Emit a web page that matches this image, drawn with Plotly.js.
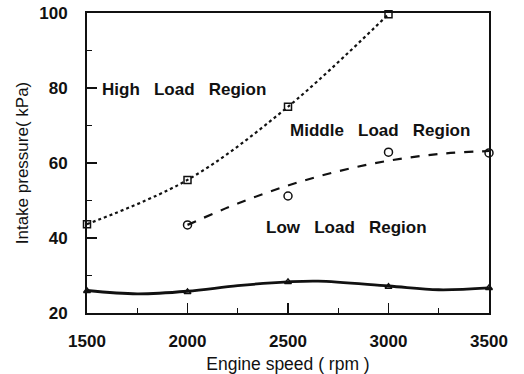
<!DOCTYPE html>
<html><head><meta charset="utf-8">
<script src="https://cdn.plot.ly/plotly-3.0.1.min.js"></script>
<style>html,body{margin:0;padding:0;background:#fff}#c{width:524px;height:374px}</style>
</head><body><div id="c"></div>
<script>
// Measured points
var speedHigh = [1500, 2000, 2500, 3000];
var pHigh = [43.7, 55.5, 75, 99.7];
var speedMid = [2000, 2500, 3000, 3500];
var pMid = [43.5, 51.2, 62.9, 62.7];
var speedLow = [1500, 2000, 2500, 3000, 3500];
var pLow = [25.9, 25.6, 28.3, 27.0, 26.7];
// Fitted curves
var curveMidX = [2000, 2250, 2500, 2750, 3000, 3250, 3500];
var curveMidY = [43.5, 49.2, 54.0, 57.8, 60.6, 62.4, 63.2];
var curveLowX = [1500, 1750, 2000, 2250, 2500, 2650, 3000, 3250, 3500];
var curveLowY = [26.0, 25.1, 25.8, 27.3, 28.3, 28.5, 27.2, 26.2, 26.7];
var labels = ["High   Load   Region", "Middle   Load   Region", "Low   Load   Region"];
var labelX = [1565, 2500, 2383];
var labelY = [79.5, 68.8, 42.7];

var K = '#111';
var traces = [
  {x: speedHigh, y: pHigh, mode: 'lines', line: {shape: 'spline', dash: 'dot', width: 2.2, color: K}, cliponaxis: false},
  {x: speedHigh, y: pHigh, mode: 'markers', marker: {symbol: 'square-open', size: 7, color: K, line: {width: 1.5}}, cliponaxis: false},
  {x: curveMidX, y: curveMidY, mode: 'lines', line: {shape: 'spline', dash: 'dash', width: 2.2, color: K}, cliponaxis: false},
  {x: speedMid, y: pMid, mode: 'markers', marker: {symbol: 'circle-open', size: 8, color: K, line: {width: 1.5}}, cliponaxis: false},
  {x: curveLowX, y: curveLowY, mode: 'lines', line: {shape: 'spline', width: 2.8, color: K}, cliponaxis: false},
  {x: speedLow, y: pLow, mode: 'markers', marker: {symbol: 'triangle-up-open', size: 6, color: K, line: {width: 1.5}}, cliponaxis: false}
];
var ann = labels.map(function(t, i){
  return {x: labelX[i], y: labelY[i], text: t, showarrow: false, xanchor: 'left', yanchor: 'middle',
    font: {family: 'Liberation Sans, Arial', size: 17, color: K, weight: 'bold'}};
});
var layout = {
  width: 524, height: 374,
  margin: {l: 87, r: 35, t: 13, b: 61},
  paper_bgcolor: '#fff', plot_bgcolor: '#fff',
  showlegend: false,
  font: {family: 'Liberation Sans, Arial', color: K},
  xaxis: {range: [1500, 3500], tickvals: [1500, 2000, 2500, 3000, 3500], ticks: 'inside', ticklen: 10, tickwidth: 1.2, tickcolor: K,
    minor: {dtick: 250, ticks: 'inside', ticklen: 5, tickcolor: K}, dtick: 500, tick0: 1500,
    showline: true, linecolor: K, linewidth: 2, mirror: true, showgrid: false, zeroline: false,
    tickfont: {size: 17, weight: 'bold', color: K}, ticklabelstandoff: 12,
    title: {text: 'Engine speed ( rpm )', font: {size: 17.5, color: K}, standoff: 8}},
  yaxis: {range: [20, 100], dtick: 20, tick0: 20, ticks: 'inside', ticklen: 10, tickwidth: 1.5, tickcolor: K,
    minor: {dtick: 10, ticks: 'inside', ticklen: 5, tickcolor: K},
    showline: true, linecolor: K, linewidth: 2, mirror: true, showgrid: false, zeroline: false,
    tickfont: {size: 17, weight: 'bold', color: K}, ticklabelstandoff: 14,
    title: {text: 'Intake pressure( kPa)', font: {size: 17, color: K}, standoff: 6}},
  annotations: ann
};
Plotly.newPlot('c', traces, layout, {staticPlot: true, displayModeBar: false});
</script></body></html>
